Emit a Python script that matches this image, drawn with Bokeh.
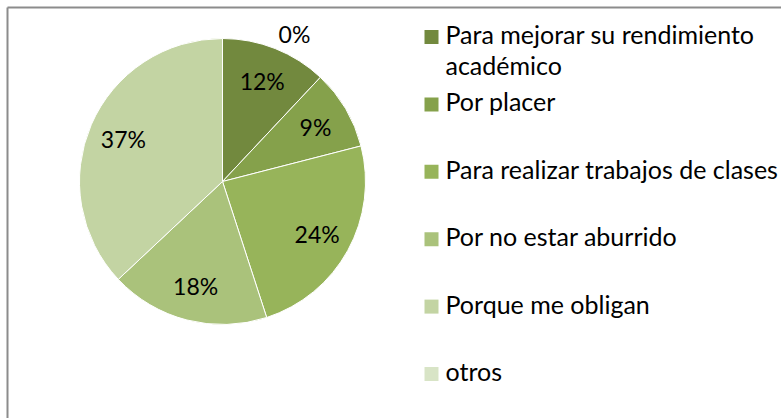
import math
import textwrap
from bokeh.plotting import figure
from bokeh.models import Range1d, ColumnDataSource
from bokeh.core.properties import value
from bokeh.embed import file_html
from bokeh.resources import INLINE

# ---- data ----
categories = [
    "Para mejorar su rendimiento académico",
    "Por placer",
    "Para realizar trabajos de clases",
    "Por no estar aburrido",
    "Porque me obligan",
    "otros",
]
values = [12, 9, 24, 18, 37, 0]
colors = ["#72893E", "#85A14B", "#97B45A", "#AAC27B", "#C3D4A3", "#D8E4C6"]

# ---- layout (screen-like data coordinates) ----
W, H = 781, 418
CX, CY, R = 222, 237, 143
FONT = value("Lato")

p = figure(width=W, height=H, x_range=Range1d(0, W), y_range=Range1d(0, H),
           output_backend="svg", toolbar_location=None, min_border=0,
           x_axis_type=None, y_axis_type=None, outline_line_color=None,
           background_fill_color="white", border_fill_color="white")
p.grid.visible = False

# chart border (left and top edges visible in reference)
p.segment(x0=[7, 7], y0=[0, H - 7], x1=[7, W], y1=[H - 7, H - 7],
          line_color="#8C8C8C", line_width=2)

total = float(sum(values))
starts, ends, mids = [], [], []
cum = 0.0
for v in values:
    a0 = math.pi / 2 - 2 * math.pi * cum / total
    cum += v
    a1 = math.pi / 2 - 2 * math.pi * cum / total
    starts.append(a0)
    ends.append(a1)
    mids.append((a0 + a1) / 2)

idx = [i for i, v in enumerate(values) if v > 0]
wsrc = ColumnDataSource(dict(
    start=[starts[i] for i in idx], end=[ends[i] for i in idx],
    color=[colors[i] for i in idx]))
p.wedge(x=CX, y=CY, radius=R, start_angle="start", end_angle="end",
        direction="clock", fill_color="color", line_color="white",
        line_width=1, source=wsrc)

# data labels
lx, ly, lt, xo, yo = [], [], [], [], []
for i, v in enumerate(values):
    if v > 0:
        r = 0.755 * R
        xo.append(0)
        yo.append(0)
    else:
        r = R + 16
        xo.append(72)
        yo.append(11)
    lx.append(CX + r * math.cos(mids[i]))
    ly.append(CY + r * math.sin(mids[i]))
    lt.append(f"{round(100 * v / total)}%")
p.text(x=lx, y=ly, text=lt, x_offset=xo, y_offset=yo, text_font=FONT,
       text_font_size="23px", text_align="center", text_baseline="middle",
       text_color="black")

# legend
LX, LY0, STEP, SQ = 424, 381.5, 67.4, 14
tx, ty, tt = [], [], []
for i, c in enumerate(categories):
    yc = LY0 - STEP * i
    p.rect(x=LX + SQ / 2, y=yc, width=SQ, height=SQ, fill_color=colors[i],
           line_color=None)
    for j, line in enumerate(textwrap.wrap(c, 32)):
        tx.append(LX + 21)
        ty.append(yc + 3 - 31 * j)
        tt.append(line)
p.text(x=tx, y=ty, text=tt, text_font=FONT, text_font_size="25px",
       text_align="left", text_baseline="middle", text_color="black")

open("out.html", "w").write(file_html(p, INLINE))
